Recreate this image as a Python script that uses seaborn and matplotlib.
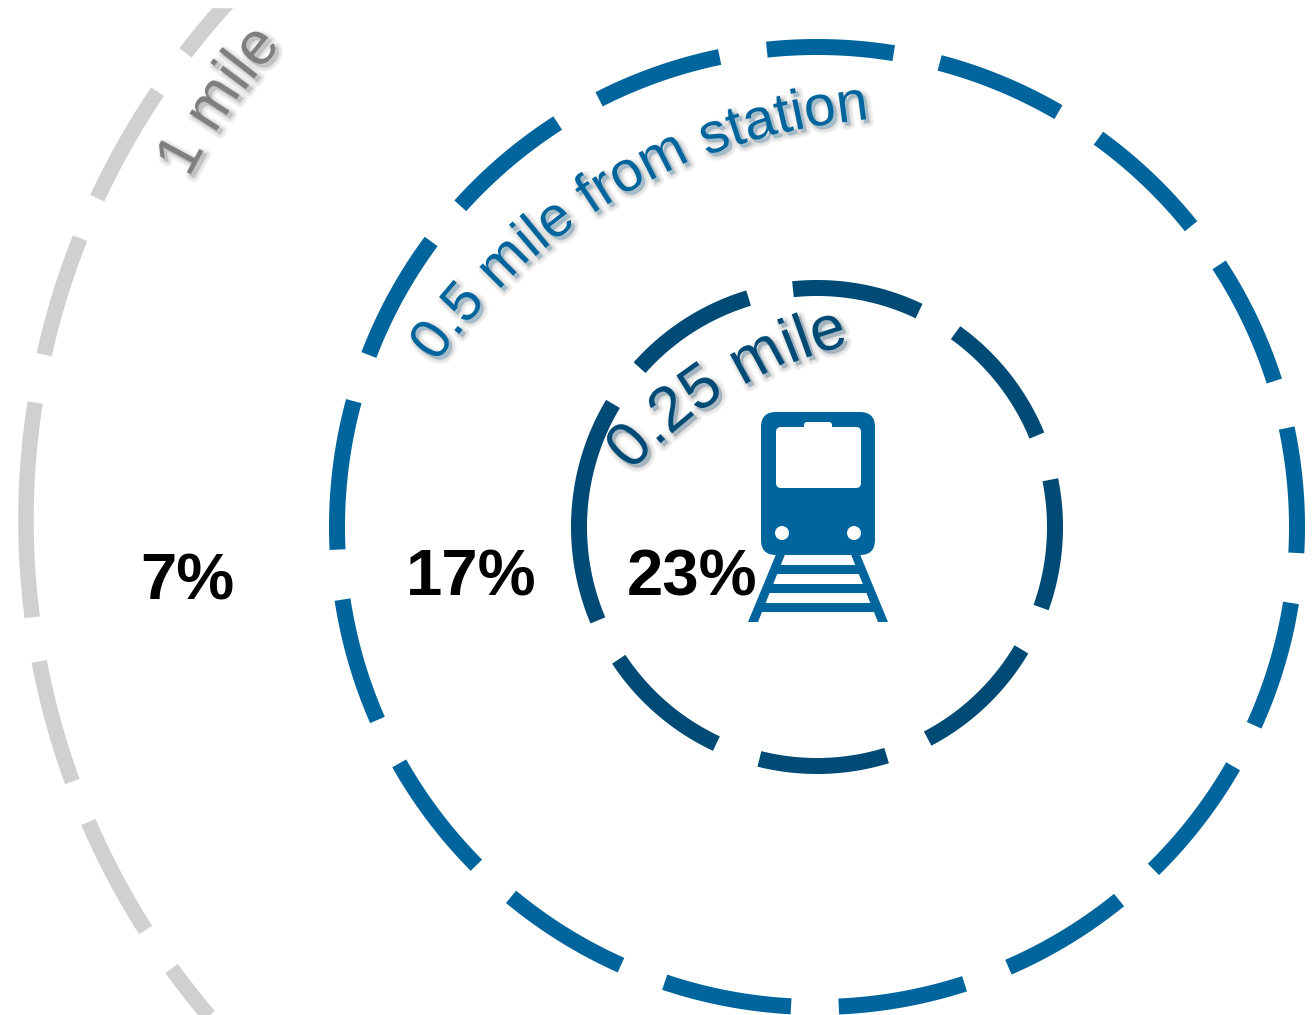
import numpy as np
import pandas as pd
import matplotlib
matplotlib.use("Agg")
import matplotlib.pyplot as plt
import matplotlib.patheffects as pe
from matplotlib.font_manager import FontProperties, findfont
from matplotlib.ft2font import FT2Font
from matplotlib.patches import Circle, FancyBboxPatch, Polygon, Rectangle
import seaborn as sns

# Ridership share by walking distance from the station
share_labels = ["23%", "17%", "7%"]
share_x = [692, 471, 187.5]
share_y = [595, 595, 600]

# Dashes of each distance ring, as (start, end) angles in degrees
inner_dashes = [(95.8, 64.6), (54.4, 22.5), (11.4, -19.7), (-30.8, -62.3),
                (-73, -104), (-115, -146.4), (-157, -211), (138.2, 106.7)]
middle_dashes = [(96, 80.8), (75.2, 59.8), (54.1, 38.8), (33.1, 17.7),
                 (11.9, -3.1), (-9.1, -24.4), (-29.9, -45.5), (-51, -66.5),
                 (-72.1, -87.4), (-93.1, -108.5), (-114.1, -129.6),
                 (-135.2, -150.5), (-156.3, -171.3), (-177.3, -195.2),
                 (159, 143.5), (138, 122.7), (117, 101.7)]
outer_dashes = [(135, 143.0), (146.5, 155.5), (158.7, 167.7), (171.3, 187.2),
                (190.5, 199.7), (202.9, 211.9), (215.3, 225)]

# Ring geometry: centre x, centre y, x radius, y radius, dashes, colour, stroke
RINGS = [(817, 527, 238, 239, inner_dashes, "#004b75", 16),
         (817, 527, 480, 480, middle_dashes, "#00659c", 16),
         (818, 520, 792, 776, outer_dashes, "#d0d0d0", 15.5)]

sns.set_theme(style="white")
fig = plt.figure(figsize=(13.15, 10.15), dpi=100)
ax = fig.add_axes([0, 0, 1, 1])

# Each ring is a set of disconnected arcs drawn as separate units
px = 72 / fig.dpi
for cx, cy, rx, ry, dashes, color, width in RINGS:
    frames = []
    for i, (a0, a1) in enumerate(dashes):
        theta = np.radians(np.linspace(a0, a1, 60))
        frames.append(pd.DataFrame({"x": cx + rx * np.cos(theta),
                                    "y": cy - ry * np.sin(theta),
                                    "dash": i}))
    sns.lineplot(data=pd.concat(frames), x="x", y="y", units="dash",
                 estimator=None, sort=False, color=color,
                 linewidth=width * px, solid_capstyle="butt",
                 legend=False, ax=ax)

ax.set_xlim(0, 1315)
ax.set_ylim(1015, 0)
ax.axis("off")
ax.add_patch(Rectangle((0, 0), 1315, 7, color="white", zorder=3))


def arc_label(text, cx, cy, radius, start, size, color):
    """Set text one glyph at a time along a circular baseline."""
    fp = FontProperties(family="Liberation Sans", size=size)
    font = FT2Font(findfont(fp))
    font.set_size(size, fig.dpi)
    shadow = [pe.Stroke(linewidth=w, foreground="#777777", alpha=0.04,
                        offset=(2.4, -2.4)) for w in (7, 6, 5, 4, 3, 2, 1, 0.4)]
    angle = np.radians(start)
    for ch in text:
        adv = font.load_char(ord(ch)).linearHoriAdvance / 65536
        ax.text(cx + radius * np.cos(angle), cy - radius * np.sin(angle), ch,
                rotation=np.degrees(angle) - 90, rotation_mode="anchor",
                ha="left", va="baseline", fontproperties=fp, color=color,
                path_effects=shadow + [pe.Normal()], zorder=4)
        angle -= adv / radius


arc_label("0.25 mile", 947, 764, 430, 137.2, 45.5, "#004b75")
arc_label("0.5 mile from station", 914, 705, 587, 144.4, 41, "#00659c")
arc_label("1 mile", 797, 506, 691, 151.7, 44, "#7f7f7f")

for label, x, y in zip(share_labels, share_x, share_y):
    ax.text(x, y, label, ha="center", va="baseline", family="Liberation Sans",
            fontweight="bold", fontsize=47, color="black", zorder=5)

# Station icon: train front above a length of track
TRAIN = "#00659c"
ax.add_patch(Polygon([(748, 622), (777, 552), (786, 552), (758, 622)], color=TRAIN, lw=0))
ax.add_patch(Polygon([(888, 622), (859, 552), (850, 552), (878, 622)], color=TRAIN, lw=0))
for top, bottom, half_top, half_bot in [(565, 574, 38, 42), (584, 593, 47, 50), (603, 612, 55, 59)]:
    ax.add_patch(Polygon([(818 - half_top, top), (818 + half_top, top),
                          (818 + half_bot, bottom), (818 - half_bot, bottom)],
                         color=TRAIN, lw=0))
ax.add_patch(FancyBboxPatch((776, 427), 85, 61, boxstyle="round,pad=0,rounding_size=5",
                            fc="white", ec="none", zorder=3))
ax.add_patch(FancyBboxPatch((804, 422), 28, 10, boxstyle="round,pad=0,rounding_size=3",
                            fc="white", ec="none", zorder=3))
ax.add_patch(FancyBboxPatch((761, 412), 114, 143, boxstyle="round,pad=0,rounding_size=15",
                            fc=TRAIN, ec="none", zorder=2))
for lx in (782, 854):
    ax.add_patch(Circle((lx, 533), 7, fc="white", ec="none", zorder=3))

fig.savefig("out.png", dpi=100, facecolor="white")
